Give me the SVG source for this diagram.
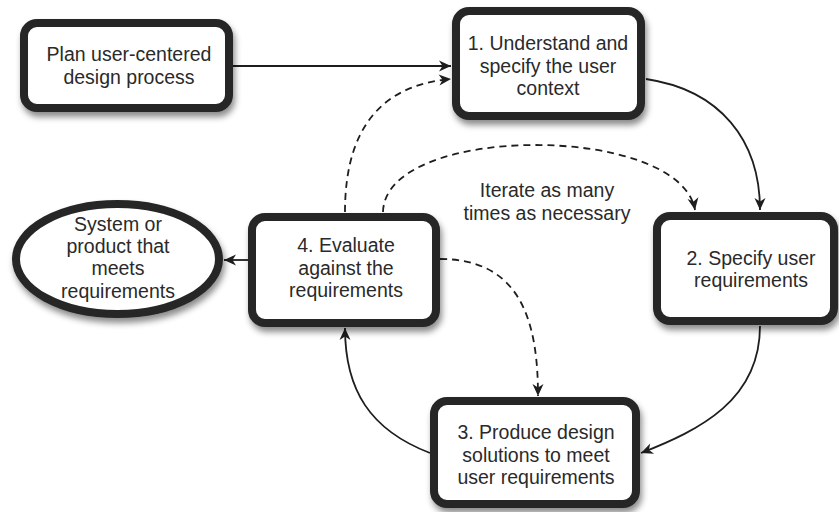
<svg xmlns="http://www.w3.org/2000/svg" width="839" height="512" viewBox="0 0 839 512">
<style>
.box{fill:#fff;stroke:#262626;stroke-width:8;filter:url(#sh)}
.t{font-family:"Liberation Sans",Arial,sans-serif;font-size:19.5px;fill:#2a2a2a;text-anchor:middle}
.c{fill:none;stroke:#1e1e1e;stroke-width:1.8}
.d{stroke-dasharray:7 5}
</style>
<defs>
<filter id="sh" x="-20%" y="-20%" width="140%" height="150%">
<feDropShadow dx="2" dy="5" stdDeviation="3" flood-color="#000" flood-opacity="0.45"/>
</filter>
<marker id="ah" markerUnits="userSpaceOnUse" markerWidth="14" markerHeight="12" refX="13" refY="6" orient="auto">
<path d="M1,0.5 L13,6 L1,11.5 L4.5,6 Z" fill="#1e1e1e"/>
</marker>
</defs>
<g id="connectors">
<path class="c" d="M233,66 L451,66" marker-end="url(#ah)"/>
<path class="c d" d="M345,212 C345,130 380,85 451,79" marker-end="url(#ah)"/>
<path class="c d" d="M383,212 C385,123 680,123 695,210" marker-end="url(#ah)"/>
<path class="c" d="M646,79 C720,90 760,140 760,210" marker-end="url(#ah)"/>
<path class="c" d="M760,326 C760,400 700,430 641,453" marker-end="url(#ah)"/>
<path class="c" d="M430,453 C370,430 345,390 345,328" marker-end="url(#ah)"/>
<path class="c d" d="M440,259 C520,259 538,320 538,396" marker-end="url(#ah)"/>
<path class="c" d="M248,260 L224,260" marker-end="url(#ah)"/>
</g>
<g id="plan">
<rect class="box" x="24" y="23" width="205" height="85" rx="13"/>
<text class="t" x="129" y="61">Plan user-centered</text>
<text class="t" x="129" y="84">design process</text>
</g>
<g id="step1">
<rect class="box" x="456" y="11" width="185" height="105" rx="13"/>
<text class="t" x="548" y="50">1. Understand and</text>
<text class="t" x="548" y="72.5">specify the user</text>
<text class="t" x="548" y="95">context</text>
</g>
<g id="step2">
<rect class="box" x="657" y="216" width="177" height="105" rx="13"/>
<text class="t" x="751" y="265">2. Specify user</text>
<text class="t" x="751" y="287">requirements</text>
</g>
<g id="step3">
<rect class="box" x="434" y="401" width="202" height="103" rx="13"/>
<text class="t" x="536" y="439">3. Produce design</text>
<text class="t" x="536" y="461.5">solutions to meet</text>
<text class="t" x="536" y="484">user requirements</text>
</g>
<g id="step4">
<rect class="box" x="252" y="217" width="184" height="106" rx="13"/>
<text class="t" x="346" y="252">4. Evaluate</text>
<text class="t" x="346" y="274.5">against the</text>
<text class="t" x="346" y="297">requirements</text>
</g>
<g id="product">
<ellipse class="box" cx="117.5" cy="259" rx="101.5" ry="55"/>
<text class="t" x="118" y="231">System or</text>
<text class="t" x="118" y="253">product that</text>
<text class="t" x="118" y="275">meets</text>
<text class="t" x="118" y="298">requirements</text>
</g>
<g id="label">
<text class="t" x="547" y="197">Iterate as many</text>
<text class="t" x="547" y="220">times as necessary</text>
</g>
</svg>
